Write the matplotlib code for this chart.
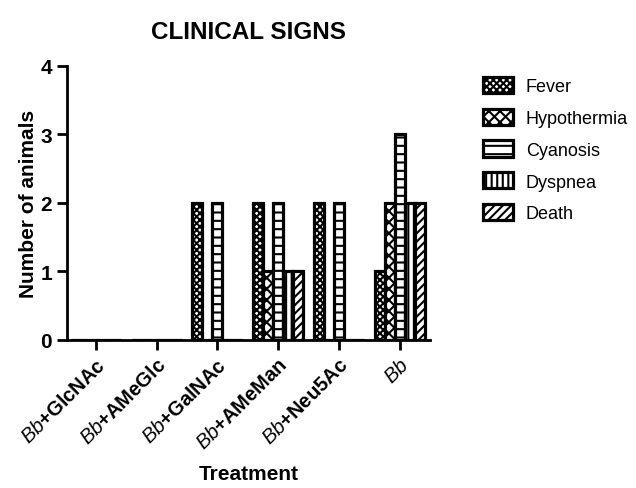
import numpy as np
import matplotlib.pyplot as plt

plt.rcParams['font.family'] = 'Liberation Sans'
plt.rcParams['mathtext.fontset'] = 'custom'
plt.rcParams['mathtext.it'] = 'Liberation Sans:italic'
plt.rcParams['mathtext.rm'] = 'Liberation Sans'
plt.rcParams['hatch.linewidth'] = 1.5

treatments = [r'$\mathit{Bb}$+GlcNAc', r'$\mathit{Bb}$+AMeGlc', r'$\mathit{Bb}$+GalNAc',
              r'$\mathit{Bb}$+AMeMan', r'$\mathit{Bb}$+Neu5Ac', r'$\mathit{Bb}$']
signs = ['Fever', 'Hypothermia', 'Cyanosis', 'Dyspnea', 'Death']
fever = [0, 0, 2, 2, 2, 1]
hypothermia = [0, 0, 0, 1, 0, 2]
cyanosis = [0, 0, 2, 2, 2, 3]
dyspnea = [0, 0, 0, 1, 0, 2]
death = [0, 0, 0, 1, 0, 2]
values = [fever, hypothermia, cyanosis, dyspnea, death]
hatches = ['xxxxx', 'xxx', '--', '|||', '////']

fig = plt.figure(figsize=(6.36, 4.89), dpi=100)
ax = fig.add_axes([0.105, 0.303, 0.571, 0.56])

x = np.arange(len(treatments))
width = 0.165
for i, (name, vals, h) in enumerate(zip(signs, values, hatches)):
    ax.bar(x + (i - 2) * width, vals, width, label=name, facecolor='white',
           edgecolor='black', hatch=h, linewidth=2.3)

ax.set_xlim(-0.48, 5.5)
ax.set_ylim(0, 4)
ax.set_yticks([0, 1, 2, 3, 4])
ax.set_xticks(x)
ax.set_xticklabels(treatments, rotation=45, ha='right', rotation_mode='anchor',
                   fontsize=14.5, fontweight='bold')
for lab in ax.get_yticklabels():
    lab.set_fontweight('bold')
    lab.set_fontsize(15)
ax.spines['top'].set_visible(False)
ax.spines['right'].set_visible(False)
ax.spines['left'].set_linewidth(2)
ax.spines['bottom'].set_linewidth(2)
ax.tick_params(axis='both', width=2, length=7)

ax.set_ylabel('Number of animals', fontsize=15, fontweight='bold', labelpad=2)
ax.set_xlabel('Treatment', fontsize=15, fontweight='bold', labelpad=8)
ax.set_title('CLINICAL SIGNS', fontsize=17.5, fontweight='bold', pad=20)

ax.legend(loc='upper left', bbox_to_anchor=(1.115, 1.0), frameon=False,
          fontsize=13, handlelength=1.7, handleheight=1.0, labelspacing=0.75,
          handletextpad=0.7, borderaxespad=0.2)

fig.savefig('out.png', dpi=100)
